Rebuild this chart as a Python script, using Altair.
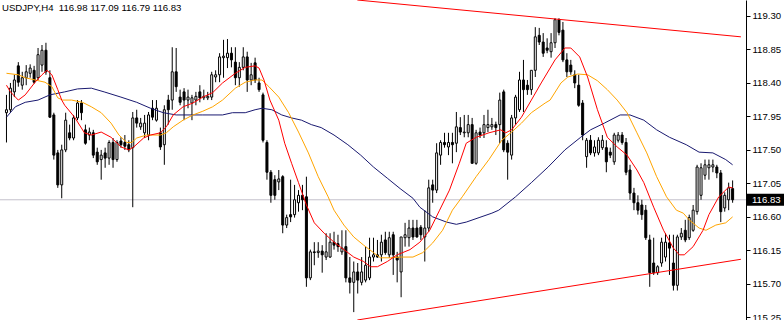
import altair as alt
import pandas as pd

symbol = "USDJPY,H4"

opens = [
    118.00, 118.04, 118.28, 118.63, 118.37, 118.47, 118.53, 118.57, 118.47, 118.64,
    118.84, 118.47, 117.97, 117.46, 117.03, 117.50, 117.73, 117.66, 117.93, 118.13,
    117.77, 117.70, 117.73, 117.47, 117.37, 117.46, 117.39, 117.60, 117.37, 117.62,
    117.60, 117.57, 117.53, 117.93, 117.81, 117.73, 117.70, 118.06, 117.90, 117.73,
    117.57, 118.17, 118.17, 118.55, 118.21, 118.28, 118.17, 118.13, 118.17, 118.28,
    118.20, 118.20, 118.21, 118.48, 118.51, 118.74, 118.74, 118.80, 118.68, 118.47,
    118.61, 118.75, 118.44, 118.67, 118.40, 118.24, 117.60, 117.20, 117.10, 117.07,
    117.14, 116.49, 116.63, 116.63, 116.79, 116.89, 116.87, 115.78, 116.13, 116.12,
    116.14, 116.06, 116.06, 116.26, 116.24, 116.13, 116.20, 115.78, 115.72, 115.86,
    115.72, 115.75, 115.78, 116.06, 116.09, 116.09, 116.29, 116.09, 116.36, 116.06,
    115.86, 116.32, 116.32, 116.45, 116.45, 116.46, 116.33, 116.45, 117.03, 116.96,
    117.43, 117.60, 117.54, 117.60, 117.59, 117.80, 117.73, 117.73, 117.84, 117.32,
    117.74, 117.73, 117.80, 117.81, 117.84, 117.84, 118.28, 117.59, 117.43, 117.93,
    118.04, 118.44, 118.37, 118.31, 118.57, 119.04, 118.95, 118.87, 118.82, 118.94,
    119.25, 119.11, 118.71, 118.64, 118.51, 118.37, 118.13, 117.41, 117.63, 117.46,
    117.46, 117.53, 117.53, 117.47, 117.34, 117.63, 117.70, 117.60, 117.23, 116.92,
    116.79, 116.76, 116.69, 116.29, 115.98, 115.85, 115.98, 116.06, 116.25, 115.98,
    115.68, 116.33, 116.42, 116.32, 116.42, 116.67, 116.89, 117.16, 117.26, 117.27,
    117.27, 117.19, 116.72, 116.83, 116.98,
]
highs = [
    118.24, 118.40, 118.51, 118.68, 118.55, 118.64, 118.65, 118.63, 118.87, 118.91,
    118.94, 118.57, 118.00, 117.50, 117.57, 118.00, 117.84, 117.97, 118.17, 118.17,
    117.84, 117.80, 117.77, 117.53, 117.50, 117.53, 117.63, 117.66, 117.63, 117.67,
    117.70, 117.63, 118.01, 118.04, 117.93, 117.97, 118.01, 118.17, 118.17, 117.80,
    118.10, 118.24, 118.88, 118.87, 118.31, 118.33, 118.31, 118.24, 118.28, 118.37,
    118.31, 118.28, 118.55, 118.57, 118.80, 118.98, 118.99, 118.88, 118.88, 118.68,
    118.88, 118.82, 118.67, 118.74, 118.47, 118.27, 117.63, 117.23, 117.16, 117.23,
    117.16, 116.63, 117.10, 117.03, 116.96, 117.03, 117.14, 116.16, 116.26, 116.26,
    116.22, 116.38, 116.38, 116.40, 116.36, 116.42, 116.42, 116.06, 116.00, 115.98,
    116.06, 116.20, 116.32, 116.32, 116.29, 116.36, 116.40, 116.40, 116.40, 116.13,
    116.33, 116.52, 116.56, 116.56, 116.56, 116.49, 116.69, 117.10, 117.10, 117.59,
    117.63, 117.73, 117.73, 117.73, 118.01, 117.94, 117.97, 117.97, 117.93, 117.77,
    117.80, 117.97, 118.04, 117.93, 117.88, 118.27, 118.31, 117.63, 117.97, 118.24,
    118.55, 118.71, 118.44, 118.51, 119.15, 119.14, 119.07, 119.00, 119.07, 119.27,
    119.27, 119.22, 118.80, 118.71, 118.57, 118.51, 118.17, 117.66, 117.70, 117.63,
    117.67, 117.70, 117.63, 117.53, 117.73, 117.74, 117.74, 117.66, 117.30, 116.99,
    116.89, 116.83, 116.76, 116.36, 116.32, 115.95, 116.32, 116.38, 116.36, 116.36,
    116.36, 116.45, 116.56, 116.63, 116.76, 117.30, 117.32, 117.37, 117.37, 117.37,
    117.30, 117.23, 116.93, 117.06, 117.09,
]
lows = [
    117.60, 118.00, 118.21, 118.35, 118.31, 118.37, 118.47, 118.39, 118.44, 118.55,
    118.51, 117.93, 117.37, 116.99, 116.85, 117.47, 117.63, 117.63, 117.90, 117.90,
    117.57, 117.63, 117.39, 117.30, 117.10, 117.26, 117.30, 117.26, 117.34, 117.53,
    117.50, 117.47, 116.73, 117.80, 117.77, 117.66, 117.63, 117.90, 117.88, 117.50,
    117.30, 117.84, 118.04, 118.28, 118.10, 117.90, 118.06, 117.90, 118.10, 118.14,
    118.17, 118.17, 118.17, 118.41, 118.41, 118.47, 118.60, 118.61, 118.37, 118.35,
    118.57, 118.28, 118.37, 118.40, 118.28, 117.60, 117.10, 116.79, 116.83, 116.96,
    116.38, 116.45, 116.53, 116.59, 116.67, 116.69, 115.66, 115.75, 115.95, 116.05,
    115.85, 116.02, 116.05, 116.16, 116.13, 116.09, 115.72, 115.57, 115.32, 115.57,
    115.68, 115.72, 115.75, 116.00, 116.05, 116.00, 116.09, 116.05, 115.82, 115.72,
    115.52, 116.20, 116.20, 116.29, 116.32, 116.29, 116.00, 116.40, 116.79, 116.92,
    117.30, 117.53, 117.43, 117.32, 117.47, 117.70, 117.67, 117.67, 117.32, 117.30,
    117.66, 117.66, 117.74, 117.77, 117.70, 117.59, 117.47, 117.10, 117.37, 117.84,
    118.01, 118.01, 118.24, 118.24, 118.48, 118.91, 118.75, 118.80, 118.74, 118.87,
    119.04, 118.68, 118.48, 118.51, 118.33, 118.08, 117.63, 117.26, 117.43, 117.41,
    117.43, 117.50, 117.20, 117.39, 117.30, 117.60, 117.57, 117.16, 116.83, 116.69,
    116.63, 116.56, 116.29, 115.66, 115.82, 115.82, 115.93, 116.00, 115.82, 115.61,
    115.61, 116.29, 116.26, 116.29, 116.40, 116.63, 116.83, 117.10, 117.10, 117.20,
    117.12, 116.53, 116.67, 116.69, 116.79,
]
closes = [
    118.04, 118.33, 118.44, 118.41, 118.47, 118.55, 118.60, 118.41, 118.78, 118.84,
    118.55, 117.94, 117.43, 117.03, 117.50, 117.90, 117.66, 117.93, 118.13, 118.00,
    117.59, 117.74, 117.43, 117.34, 117.43, 117.39, 117.60, 117.37, 117.60, 117.57,
    117.55, 117.50, 117.93, 117.86, 117.86, 117.86, 117.97, 117.94, 118.06, 117.54,
    118.04, 118.04, 118.55, 118.35, 118.14, 118.17, 118.21, 118.20, 118.22, 118.20,
    118.22, 118.22, 118.51, 118.51, 118.75, 118.76, 118.80, 118.71, 118.47, 118.61,
    118.75, 118.44, 118.51, 118.44, 118.31, 117.63, 117.20, 116.89, 116.89, 117.11,
    116.49, 116.59, 116.60, 116.83, 116.89, 116.83, 115.78, 116.13, 116.12, 116.14,
    116.09, 116.13, 116.26, 116.22, 116.20, 116.18, 115.78, 115.72, 115.86, 115.75,
    115.86, 115.95, 116.06, 116.09, 116.06, 116.26, 116.12, 116.32, 116.09, 116.02,
    116.33, 116.36, 116.45, 116.33, 116.33, 116.36, 116.45, 116.99, 116.96, 117.46,
    117.60, 117.57, 117.60, 117.57, 117.81, 117.74, 117.74, 117.84, 117.32, 117.73,
    117.70, 117.84, 117.84, 117.84, 117.80, 118.17, 117.50, 117.47, 117.93, 118.21,
    118.44, 118.31, 118.31, 118.57, 119.02, 118.95, 118.80, 118.84, 118.94, 119.25,
    119.08, 118.71, 118.55, 118.55, 118.40, 118.10, 117.70, 117.63, 117.46, 117.54,
    117.63, 117.63, 117.34, 117.43, 117.70, 117.70, 117.60, 117.20, 116.92, 116.79,
    116.69, 116.63, 116.32, 115.85, 115.85, 115.93, 116.26, 116.26, 116.18, 115.68,
    116.33, 116.38, 116.29, 116.59, 116.69, 117.27, 117.26, 117.30, 117.30, 117.30,
    117.19, 116.67, 116.89, 116.99, 116.83,
]

# moving averages (bar index, price)
red_i = [0, 1, 3, 4.75, 7.25, 9, 10.25, 11.5, 13, 14,
         14.75, 17.25, 19.75, 21.5, 24, 26.5, 29, 31, 32.25, 34.75,
         36.5, 39, 40.5, 42.25, 44.75, 47.25, 49.75, 52.25, 54.75, 58,
         60.5, 63, 64, 65.25, 66.75, 69, 70.5, 72.25, 74, 76,
         78, 80.5, 83, 85.5, 88, 90.5, 92.25, 94, 96.5, 99,
         102.25, 104.75, 107.25, 109.75, 112.25, 114.75, 116.5, 119, 122.25, 125.25,
         126.5, 128, 130.5, 133, 135.5, 139, 141.5, 143, 145.25, 147.25,
         149.75, 152.25, 154.75, 157.25, 159.75, 161.5, 164, 166.5, 169, 170.5,
         171.75, 174, 176.5, 178, 180.5, 183, 184]
red_p = [118.37, 118.28, 118.17, 118.24, 118.41, 118.51, 118.57, 118.51, 118.31, 118.17,
         118.10, 117.94, 117.73, 117.70, 117.74, 117.67, 117.54, 117.50, 117.54, 117.66,
         117.70, 117.73, 117.81, 117.97, 118.08, 118.13, 118.21, 118.27, 118.40, 118.53,
         118.61, 118.63, 118.60, 118.44, 118.17, 117.90, 117.59, 117.32, 117.06, 116.76,
         116.52, 116.38, 116.26, 116.16, 116.06, 116.00, 115.93, 115.93, 116.00, 116.09,
         116.16, 116.26, 116.42, 116.69, 116.96, 117.32, 117.59, 117.67, 117.73, 117.77,
         117.73, 117.77, 117.94, 118.17, 118.40, 118.71, 118.87, 118.87, 118.75, 118.48,
         118.04, 117.67, 117.54, 117.43, 117.23, 117.06, 116.73, 116.42, 116.18, 116.09,
         116.09, 116.20, 116.42, 116.63, 116.87, 117.00, 116.99]

orange_i = [0, 3, 4.75, 7.25, 9.75, 11.5, 13, 14.25, 16.5, 19.25,
            21.5, 24, 26.5, 28.5, 30.5, 31.75, 33, 35.5, 39, 40.5,
            42.25, 44.75, 47.25, 49.75, 52.25, 54.75, 58, 60.5, 63, 64.75,
            66.5, 69, 71.5, 74, 76.5, 79, 81.5, 83, 85.5, 88,
            90.5, 93, 94.75, 97.25, 99.75, 103, 105.5, 108, 110.5, 113,
            115.5, 119, 122.25, 125.5, 128, 130.5, 133, 136.5, 137.75, 140.5,
            142.25, 144.75, 147.25, 149.75, 152.25, 154.75, 157.25, 159.75, 162.25, 164.75,
            167.25, 169.75, 171.5, 173, 175.5, 177.25, 179.75, 182.25, 184]
orange_p = [118.53, 118.51, 118.47, 118.44, 118.41, 118.35, 118.20, 118.17, 118.17, 118.14,
            118.08, 118.00, 117.86, 117.70, 117.60, 117.60, 117.66, 117.70, 117.70, 117.73,
            117.81, 117.90, 117.97, 118.02, 118.08, 118.17, 118.33, 118.41, 118.44, 118.44,
            118.35, 118.21, 118.00, 117.74, 117.46, 117.14, 116.87, 116.69, 116.49, 116.33,
            116.22, 116.12, 116.05, 116.05, 116.06, 116.06, 116.12, 116.25, 116.42, 116.69,
            116.87, 117.14, 117.37, 117.63, 117.74, 117.86, 118.00, 118.13, 118.17, 118.40,
            118.48, 118.52, 118.51, 118.43, 118.31, 118.17, 118.00, 117.73, 117.46, 117.14,
            116.87, 116.69, 116.65, 116.56, 116.45, 116.42, 116.49, 116.52, 116.60]

navy_i = [0, 2.25, 4.75, 8, 11, 14.75, 18, 21.5, 24.75, 29,
          33, 36.5, 39.75, 43, 46.5, 49.75, 54.75, 57.25, 60.5, 63,
          64.75, 67.25, 69.75, 72.25, 74.75, 77.25, 79.75, 83, 86.5, 89.75,
          93, 96.5, 99.75, 103, 104.75, 108, 111.5, 114, 116.5, 119.75,
          123, 124.75, 129, 133, 137.25, 141.5, 145.5, 148, 151.5, 155.5,
          158, 161.5, 164.75, 168, 172.25, 175.5, 179, 182.25, 184]
navy_p = [117.94, 118.08, 118.14, 118.17, 118.24, 118.28, 118.32, 118.33, 118.28, 118.21,
          118.14, 118.06, 118.00, 117.97, 117.97, 117.97, 117.97, 118.00, 118.00, 118.04,
          118.06, 118.04, 117.97, 117.93, 117.90, 117.84, 117.80, 117.70, 117.57, 117.43,
          117.27, 117.12, 116.98, 116.85, 116.73, 116.60, 116.53, 116.50, 116.53, 116.59,
          116.65, 116.69, 116.87, 117.06, 117.27, 117.50, 117.67, 117.77, 117.86, 117.97,
          117.97, 117.90, 117.77, 117.67, 117.57, 117.47, 117.46, 117.37, 117.30]

# trend lines (bar index, price)
upper_i = [88.9, 186.1]
upper_p = [119.515, 119.02]
lower_i = [88.9, 186.1]
lower_p = [115.214, 116.03]

tick_values = [115.25, 115.70, 116.15, 116.60, 117.05, 117.50, 117.95, 118.40, 118.85, 119.30]

FONT = "Liberation Sans"
FS = 9.6

n = len(opens)
assert len(highs) == n and len(lows) == n and len(closes) == n
candles = pd.DataFrame({"i": list(range(n)), "o": opens, "h": highs, "l": lows, "c": closes})

xs = alt.Scale(domain=[-0.375, 186.125], nice=False, zero=False)
ys = alt.Scale(domain=[115.214, 119.515], nice=False, zero=False)
yaxis = alt.Axis(orient="right", values=tick_values, format=".2f", labelFont=FONT,
                 labelFontSize=FS, labelColor="black", tickColor="black", domainColor="black",
                 tickSize=4, labelPadding=2, grid=False, title=None, labelFlush=False,
                 labelOverlap=False, domainWidth=1, tickWidth=1)


def X(f):
    return alt.X(f, type="quantitative", scale=xs, axis=None)


def Y(f):
    return alt.Y(f, type="quantitative", scale=ys, axis=yaxis, title=None)


last = closes[-1]
price_df = pd.DataFrame({"p": [last], "hi": [last + 0.08], "lo": [last - 0.08]})

price_line = alt.Chart(price_df).mark_rule(color="#c4c0cc", strokeWidth=1).encode(y=Y("p"))

wicks = alt.Chart(candles).mark_rule(color="black", strokeWidth=1).encode(
    x=X("i"), y=Y("l"), y2="h")
bodies = alt.Chart(candles).mark_bar(size=2, stroke="black", strokeWidth=1).encode(
    x=X("i"), y=Y("o"), y2="c",
    fill=alt.condition("datum.c > datum.o", alt.value("white"), alt.value("black")))


def ma(ii, pp, color):
    assert len(ii) == len(pp)
    df = pd.DataFrame({"i": ii, "p": pp})
    return alt.Chart(df).mark_line(color=color, strokeWidth=1, clip=True).encode(
        x=X("i"), y=Y("p"), order="i:Q")


navy = ma(navy_i, navy_p, "#191970")
orange = ma(orange_i, orange_p, "#ffa500")
red = ma(red_i, red_p, "#ff0000")
upper = ma(upper_i, upper_p, "#ff0000")
lower = ma(lower_i, lower_p, "#ff0000")

title_txt = symbol + "\u00a0 " + " ".join(f"{v:.2f}" for v in [opens[-1], highs[-1], lows[-1], closes[-1]])
title = alt.Chart(pd.DataFrame({"t": [title_txt]})).mark_text(
    align="left", baseline="alphabetic", font=FONT, fontSize=FS, color="black").encode(
    x=alt.value(2), y=alt.value(11), text="t:N")

box = alt.Chart(price_df).mark_rect(color="black").encode(
    x=alt.value(747), x2=alt.value(784), y=Y("hi"), y2="lo")
box_txt = alt.Chart(price_df).mark_text(
    align="left", baseline="middle", font=FONT, fontSize=FS, color="white").encode(
    x=alt.value(752), y=Y("p"), text=alt.Text("p:Q", format=".2f"))

chart = alt.layer(price_line, wicks, bodies, navy, orange, red, upper, lower, title, box, box_txt).properties(
    width=746, height=320,
    padding={"left": 0, "right": 38, "top": 0, "bottom": 0},
    autosize=alt.AutoSizeParams(type="none"),
    background="white",
).configure_view(stroke=None)

chart.save("out.html", embed_options={"renderer": "svg", "actions": False})
